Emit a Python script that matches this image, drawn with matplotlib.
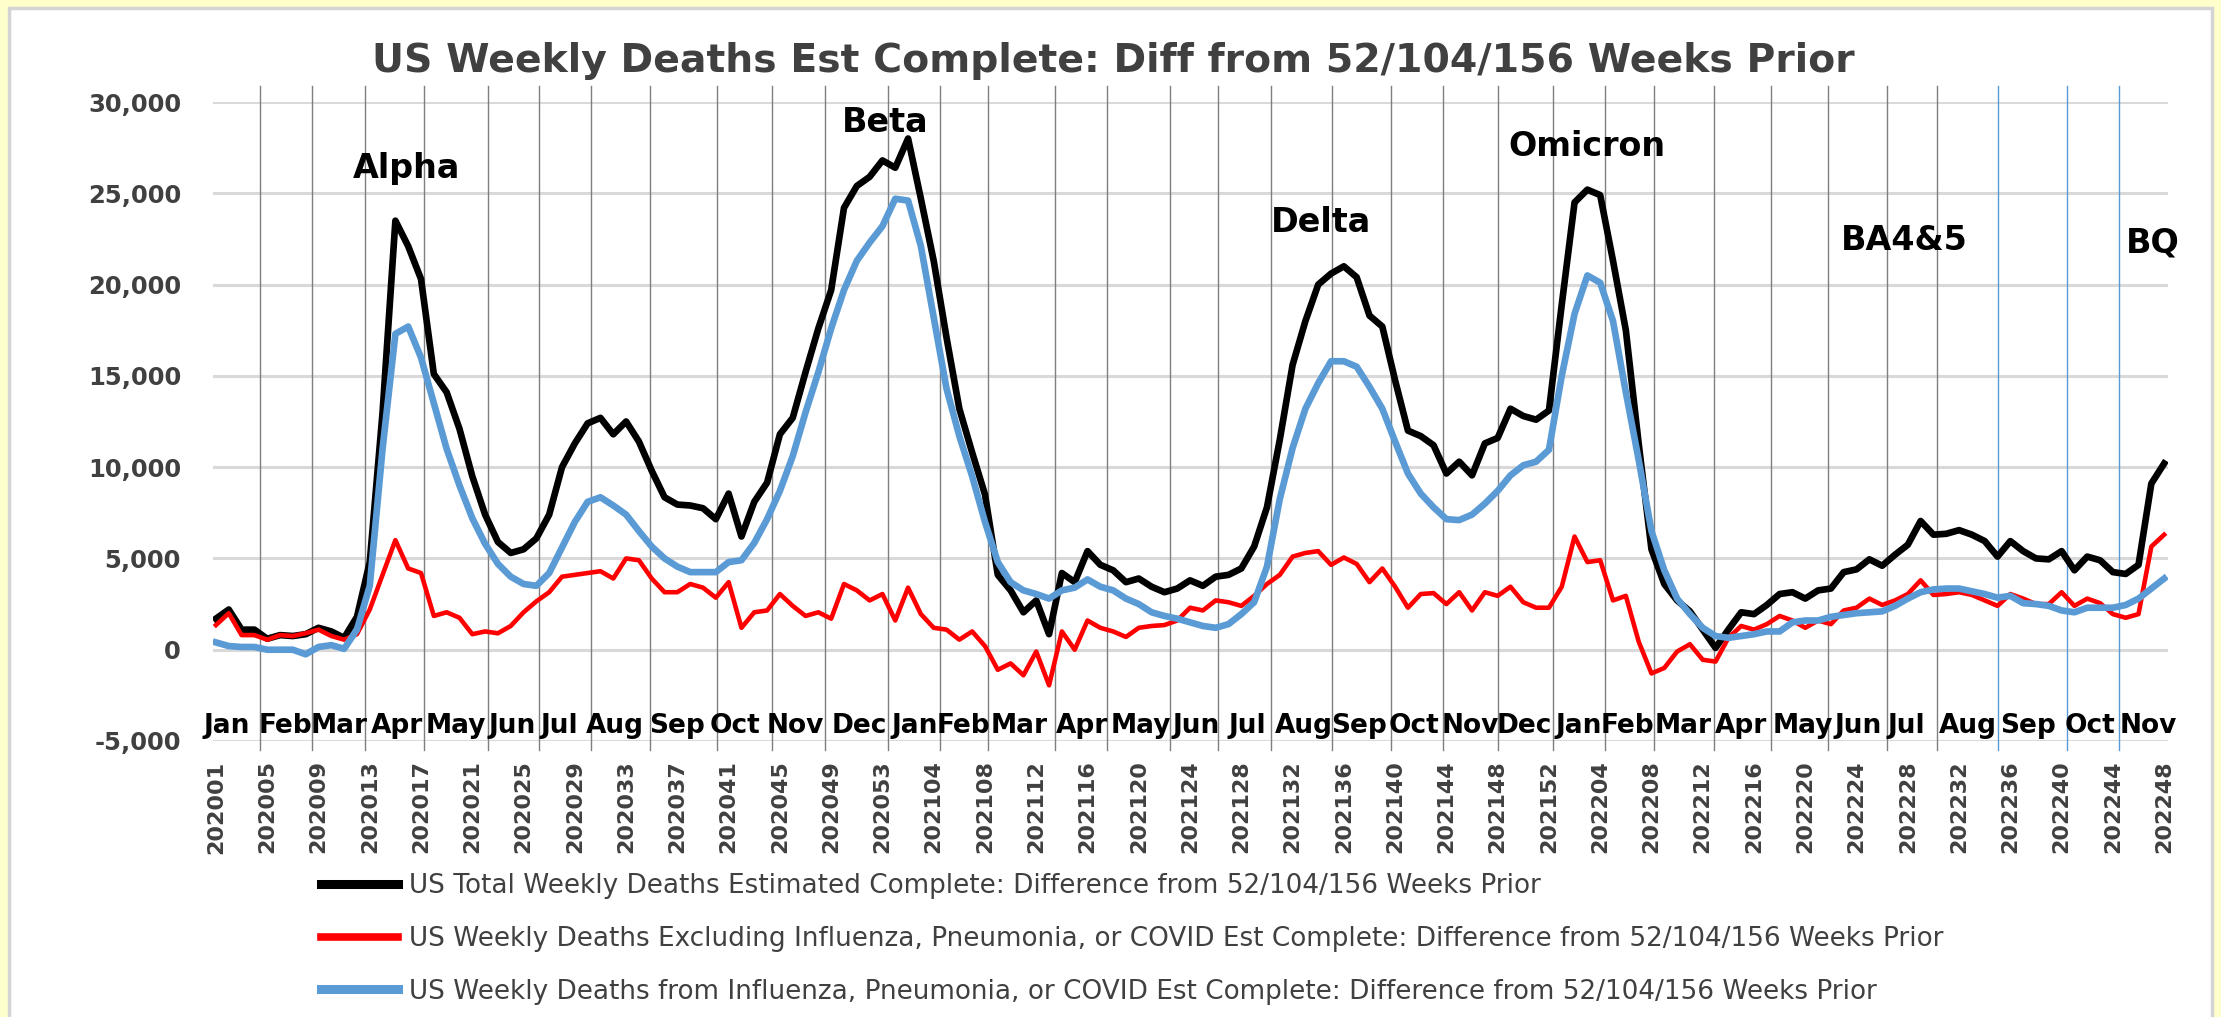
import matplotlib
matplotlib.use("Agg")
import matplotlib.pyplot as plt
from matplotlib.patches import Rectangle
from matplotlib.lines import Line2D
from matplotlib.ticker import FuncFormatter

plt.rcParams['font.family'] = ['DejaVu Sans']

# MMWR weeks 202001 .. 202248 (2020 has 53 weeks)
weeks = ([f"2020{w:02d}" for w in range(1, 54)] +
         [f"2021{w:02d}" for w in range(1, 53)] +
         [f"2022{w:02d}" for w in range(1, 49)])

# US total weekly deaths, diff from 52/104/156 weeks prior
total_diff = [
    1700, 2200, 1100, 1100, 600, 800, 750, 850, 1200, 1000,
    650, 1800, 4800, 13000, 23500, 22100, 20300, 15100, 14100, 12100,
    9500, 7400, 5900, 5300, 5500, 6100, 7400, 10000, 11300, 12400,
    12700, 11800, 12500, 11400, 9800, 8350, 7950, 7900, 7750, 7150,
    8550, 6200, 8100, 9150, 11800, 12700, 15200, 17600, 19700, 24200,
    25400, 25900, 26800, 26400, 28000, 24700, 21300, 17100, 13200, 10800,
    8500, 4100, 3250, 2050, 2700, 850, 4200, 3700, 5400, 4650,
    4350, 3700, 3900, 3450, 3150, 3350, 3800, 3500, 4000, 4100,
    4450, 5650, 7800, 11500, 15600, 18000, 20000, 20600, 21000, 20400,
    18300, 17700, 14750, 12000, 11700, 11200, 9650, 10300, 9550, 11300,
    11600, 13200, 12800, 12600, 13100, 18900, 24500, 25200, 24900, 21300,
    17500, 11300, 5500, 3600, 2700, 2100, 1100, 100, 1100, 2050,
    1950, 2450, 3050, 3150, 2800, 3250, 3350, 4250, 4400, 4950,
    4600, 5200, 5750, 7050, 6300, 6350, 6550, 6300, 5950, 5100,
    5950, 5400, 5000, 4950, 5400, 4350, 5100, 4900, 4250, 4150,
    4650, 9100, 10200,
]

# excluding influenza, pneumonia, covid
other_diff = [
    1350, 2000, 800, 800, 550, 800, 750, 900, 1100, 750,
    550, 850, 2200, 4100, 6000, 4450, 4200, 1850, 2050, 1750,
    850, 1000, 900, 1300, 2050, 2650, 3150, 4000, 4100, 4200,
    4300, 3900, 5000, 4900, 3900, 3150, 3150, 3600, 3400, 2850,
    3700, 1200, 2050, 2150, 3050, 2400, 1850, 2050, 1700, 3600,
    3250, 2700, 3050, 1600, 3400, 1950, 1200, 1100, 550, 1000,
    200, -1100, -750, -1400, -100, -1950, 1000, 0, 1600, 1200,
    1000, 700, 1200, 1300, 1350, 1600, 2300, 2150, 2700, 2600,
    2400, 2950, 3600, 4100, 5100, 5300, 5400, 4650, 5050, 4700,
    3700, 4450, 3450, 2300, 3050, 3100, 2500, 3150, 2150, 3150,
    2950, 3450, 2600, 2300, 2300, 3450, 6200, 4800, 4900, 2700,
    2950, 450, -1300, -1000, -100, 300, -550, -650, 650, 1300,
    1100, 1400, 1850, 1600, 1200, 1600, 1400, 2150, 2300, 2800,
    2450, 2700, 3050, 3800, 3000, 3050, 3150, 3000, 2700, 2400,
    3050, 2800, 2500, 2500, 3150, 2400, 2800, 2550, 1950, 1750,
    1950, 5650, 6300,
]

# from influenza, pneumonia, or covid
ipc_diff = [
    400, 200, 150, 150, 0, 0, 0, -250, 150, 250,
    50, 1100, 3500, 11000, 17300, 17700, 16000, 13500, 11000, 9000,
    7200, 5800, 4700, 4000, 3600, 3500, 4200, 5600, 7000, 8100,
    8350, 7900, 7400, 6500, 5650, 5000, 4550, 4250, 4250, 4250,
    4800, 4900, 5850, 7150, 8700, 10600, 13000, 15200, 17600, 19700,
    21300, 22300, 23200, 24700, 24600, 22100, 18200, 14300, 11700, 9500,
    7000, 4800, 3700, 3250, 3050, 2800, 3250, 3400, 3850, 3450,
    3250, 2800, 2500, 2050, 1850, 1700, 1500, 1300, 1200, 1400,
    1950, 2600, 4550, 8250, 11050, 13200, 14600, 15800, 15800, 15500,
    14400, 13200, 11400, 9650, 8550, 7800, 7150, 7100, 7400, 8000,
    8700, 9550, 10100, 10300, 10950, 15000, 18400, 20500, 20100, 18000,
    14100, 10400, 6500, 4350, 2800, 1950, 1200, 750, 650, 750,
    850, 1000, 1000, 1500, 1600, 1600, 1800, 1900, 2000, 2050,
    2100, 2400, 2800, 3150, 3300, 3350, 3350, 3200, 3050, 2850,
    2950, 2550, 2500, 2400, 2150, 2050, 2300, 2300, 2300, 2450,
    2800, 3350, 3900,
]

series_labels = [
    "US Total Weekly Deaths Estimated Complete: Difference from 52/104/156 Weeks Prior",
    "US Weekly Deaths Excluding Influenza, Pneumonia, or COVID Est Complete: Difference from 52/104/156 Weeks Prior",
    "US Weekly Deaths from Influenza, Pneumonia, or COVID Est Complete: Difference from 52/104/156 Weeks Prior",
]

months = ["Jan", "Feb", "Mar", "Apr", "May", "Jun", "Jul", "Aug", "Sep", "Oct", "Nov", "Dec"]
month_names = months + months + months[:11]
# where the month names sit, in weeks from 202001
month_weeks = [0.8, 5.4, 9.6, 14.1, 18.7, 23.1, 26.8, 31.1, 36.0, 40.5, 45.2, 50.2,
               54.5, 58.3, 62.7, 67.6, 72.2, 76.5, 80.5, 84.9, 89.2, 93.5, 97.9, 102.1,
               106.3, 110.1, 114.5, 119.0, 123.8, 128.1, 131.9, 136.7, 141.4, 146.2, 150.8]
# hand drawn month separators (last three drawn in blue)
sep_weeks = [3.4, 7.5, 11.6, 16.2, 21.2, 25.2, 29.3, 33.9, 39.1, 43.4, 47.5, 52.4,
             56.5, 60.2, 65.5, 69.5, 74.4, 78.2, 82.3, 87.1, 91.7, 95.7, 100.0, 104.3,
             108.4, 112.2, 116.9, 121.3, 125.8, 130.4, 134.3, 139.0, 144.4, 148.5]

variants = ["Alpha", "Beta", "Delta", "Omicron", "BA4&5", "BQ"]
variant_weeks = [14.9, 52.2, 86.2, 107.0, 131.7, 151.1]
variant_levels = [26350, 28900, 23400, 27550, 22400, 22300]

W, H = 2221, 1017
fig = plt.figure(figsize=(W / 100, H / 100), dpi=100)
fig.patch.set_facecolor('#FFFFCC')
fig.patches.append(Rectangle((9 / W, -0.02), 2203 / W, 1.02 - 8 / H, transform=fig.transFigure,
                             facecolor='white', edgecolor='#D4D4D4', lw=2.5, zorder=-1))

ax = fig.add_axes([213 / W, 276 / H, 1955 / W, 639 / H])
ax.set_facecolor('none')
ax.set_ylim(-5000, 30000)
ax.set_xlim(-0.23, 152.3)
for s in ax.spines.values():
    s.set_visible(False)

ax.set_yticks(range(-5000, 30001, 5000))
ax.yaxis.set_major_formatter(FuncFormatter(lambda v, p: f"{int(v):,}"))
ax.yaxis.grid(True, color='#D9D9D9', linewidth=2.2)
ax.set_axisbelow(True)
ax.tick_params(axis='y', length=0, pad=23, labelsize=17.5, labelcolor='#404040')
for t in ax.get_yticklabels():
    t.set_fontweight('bold')

ax.set_xticks(range(0, len(weeks), 4))
ax.set_xticklabels(weeks[::4], rotation=90, fontweight='bold')
ax.tick_params(axis='x', length=0, pad=14, labelsize=16, labelcolor='#404040')

# month separator lines
for i, w in enumerate(sep_weeks):
    c = '#5B9BD5' if i >= len(sep_weeks) - 3 else '#7F7F7F'
    ax.plot([w, w], [-5500, 30900], color=c, lw=1.0, clip_on=False, zorder=1)

x = list(range(len(weeks)))
ax.plot(x, total_diff, color='black', lw=4.8, zorder=3)
ax.plot(x, other_diff, color='#FF0000', lw=3.3, zorder=4)
ax.plot(x, ipc_diff, color='#5B9BD5', lw=4.8, zorder=5)

for name, w in zip(month_names, month_weeks):
    ax.text(w, -4200, name, ha='center', va='center', fontsize=19, fontweight='bold',
            color='black', zorder=6)

for name, w, v in zip(variants, variant_weeks, variant_levels):
    ax.text(w, v, name, ha='center', va='center', fontsize=24, fontweight='bold',
            color='black', zorder=6)

fig.text(1113 / W, 1 - 61 / H, "US Weekly Deaths Est Complete: Diff from 52/104/156 Weeks Prior",
         ha='center', va='center', fontsize=28.4, fontweight='bold', color='#404040')

handles = [Line2D([], [], color='black', lw=6.5),
           Line2D([], [], color='#FF0000', lw=5.5),
           Line2D([], [], color='#5B9BD5', lw=6.5)]
fig.legend(handles, series_labels, loc='upper left', bbox_to_anchor=(321 / W, 1 - 873 / H),
           frameon=False, fontsize=18.9, handlelength=2.93, handletextpad=0.42,
           labelspacing=1.02, borderpad=0, borderaxespad=0, labelcolor='#404040')

fig.savefig("out.png", dpi=100)
